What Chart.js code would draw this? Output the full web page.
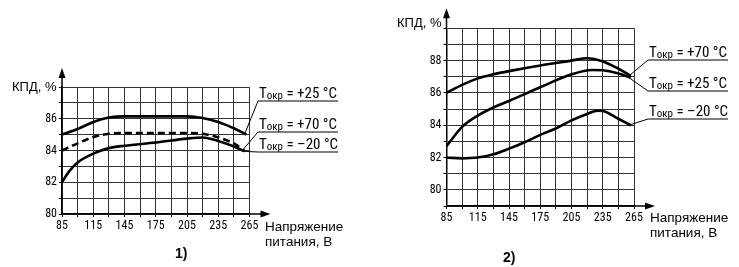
<!DOCTYPE html>
<html>
<head>
<meta charset="utf-8">
<script src="https://cdn.jsdelivr.net/npm/chart.js@4"></script>
<style>
  html, body { margin:0; padding:0; background:#fff; }
  body { width:739px; height:267px; position:relative; overflow:hidden; color:#000; }
  canvas { position:absolute; top:0; }
  .t { position:absolute; white-space:nowrap; font-family:"Liberation Sans",Arial,sans-serif;
       font-size:13.5px; line-height:14px; }
  .k { font-size:13px; }
  .b { font-weight:bold; font-size:14px; }
</style>
</head>
<body>
<canvas id="c1" width="370" height="267" style="left:0"></canvas>
<canvas id="c2" width="369" height="267" style="left:370px"></canvas>
<div class="t k" style="left:12px;top:80px">КПД, %</div>
<div class="t" style="left:265px;top:220px">Напряжение</div>
<div class="t" style="left:265px;top:235px">питания, В</div>
<div class="t b" style="left:175px;top:246px">1)</div>
<div class="t k" style="left:397px;top:16px">КПД, %</div>
<div class="t" style="left:650px;top:211px">Напряжение</div>
<div class="t" style="left:650px;top:226px">питания, В</div>
<div class="t b" style="left:503px;top:250px">2)</div>
<script>
// ---------- DATA ----------
// Chart 1)
const c1_volt_p25 = [85, 100, 115, 130, 145, 175, 205, 220, 235, 250, 262];
const c1_eff_p25  = [85.0, 85.35, 85.8, 86.08, 86.15, 86.15, 86.15, 86.05, 85.8, 85.4, 85.0];
const c1_volt_p70 = [85, 100, 115, 130, 145, 175, 205, 220, 235, 250, 260];
const c1_eff_p70  = [84.0, 84.45, 84.85, 85.05, 85.1, 85.1, 85.1, 85.05, 84.82, 84.44, 84.0];
const c1_volt_m20 = [85, 92, 100, 115, 130, 145, 175, 205, 220, 235, 250, 260];
const c1_eff_m20  = [82.0, 82.7, 83.25, 83.8, 84.15, 84.3, 84.5, 84.75, 84.82, 84.6, 84.25, 83.95];
// Chart 2)
const c2_volt_p70 = [85, 100, 115, 130, 145, 175, 205, 220, 235, 250, 262];
const c2_eff_p70  = [86.0, 86.5, 86.9, 87.15, 87.35, 87.7, 88.0, 88.15, 87.95, 87.5, 87.05];
const c2_volt_p25 = [85, 100, 115, 130, 145, 175, 205, 225, 235, 250, 262];
const c2_eff_p25  = [82.7, 83.9, 84.6, 85.1, 85.5, 86.35, 87.15, 87.42, 87.4, 87.2, 86.95];
const c2_volt_m20 = [85, 100, 115, 130, 145, 160, 175, 190, 205, 220, 230, 235, 250, 262];
const c2_eff_m20  = [82.0, 81.95, 82.0, 82.2, 82.55, 82.95, 83.4, 83.8, 84.3, 84.7, 84.9, 84.88, 84.4, 84.0];
// Labels
const xTickLabels = [85, 115, 145, 175, 205, 235, 265];
const c1_yTickLabels = [80, 82, 84, 86];
const c2_yTickLabels = [80, 82, 84, 86, 88];
const c1_series = ['+25 °C', '+70 °C', '\u201320 °C'];
const c2_series = ['+70 °C', '+25 °C', '\u201320 °C'];
const symbolMain = 'T', symbolSub = 'окр';

const FONT = '"Liberation Sans Narrow","Arial Narrow","Roboto Condensed","Liberation Sans",sans-serif';

function pts(xs, ys){ return xs.map((x,i)=>({x:x, y:ys[i]})); }

// plugin: axis arrows + series labels with leader lines
const decor = {
  id:'decor',
  afterDatasetsDraw(chart, args, o){
    const ctx = chart.ctx, a = chart.chartArea;
    const xs = chart.scales.x, ys = chart.scales.y;
    ctx.save();
    ctx.strokeStyle = '#000'; ctx.fillStyle = '#000'; ctx.lineWidth = 1.5;
    const yb = a.bottom;
    ctx.beginPath(); ctx.moveTo(a.right, yb); ctx.lineTo(a.right + o.xArrow - 8, yb); ctx.stroke();
    ctx.beginPath(); ctx.moveTo(a.right + o.xArrow, yb); ctx.lineTo(a.right + o.xArrow - 10, yb - 3.5);
    ctx.lineTo(a.right + o.xArrow - 10, yb + 3.5); ctx.closePath(); ctx.fill();
    const xl = a.left;
    ctx.beginPath(); ctx.moveTo(xl, a.top); ctx.lineTo(xl, a.top - o.yArrow + 8); ctx.stroke();
    ctx.beginPath(); ctx.moveTo(xl, a.top - o.yArrow); ctx.lineTo(xl - 3.5, a.top - o.yArrow + 10);
    ctx.lineTo(xl + 3.5, a.top - o.yArrow + 10); ctx.closePath(); ctx.fill();
    ctx.lineWidth = 1;
    o.labels.forEach((lb, i) => {
      const ds = chart.data.datasets[lb.ds];
      const p = ds.data[ds.data.length - 1];
      const px = xs.getPixelForValue(p.x) - 2, py = ys.getPixelForValue(p.y);
      const x0 = a.right + o.lx0, x1 = a.right + o.lx1, uy = lb.uy;
      ctx.beginPath(); ctx.moveTo(px, py); ctx.lineTo(x0, uy); ctx.lineTo(x1, uy); ctx.stroke();
      let tx = x0 + 1; const by = uy - 3;
      ctx.textBaseline = 'alphabetic'; ctx.textAlign = 'left';
      ctx.font = '15px ' + FONT; ctx.fillText(symbolMain, tx, by); tx += ctx.measureText(symbolMain).width;
      ctx.font = '11px ' + FONT; ctx.fillText(symbolSub, tx, by + 1); tx += ctx.measureText(symbolSub).width;
      ctx.font = '15px ' + FONT; ctx.fillText(' = ' + lb.text, tx, by);
    });
    ctx.restore();
  }
};

function makeChart(id, cfg){
  const lineStyle = { borderColor:'#000', borderWidth:2.6, pointRadius:0, fill:false,
                      cubicInterpolationMode:'monotone' };
  return new Chart(document.getElementById(id), {
    type:'line',
    data:{ datasets: cfg.datasets.map(d => Object.assign({}, lineStyle, d)) },
    options:{
      responsive:false, animation:false, devicePixelRatio:1,
      layout:{ padding:{ left:0, top:cfg.top, right:cfg.right, bottom:cfg.bottom } },
      plugins:{ legend:{display:false}, tooltip:{enabled:false}, decor:cfg.decor },
      scales:{
        x:{ type:'linear', min:85, max:265,
            afterFit(s){ s.height = 20; },
            grid:{ color:'#333', lineWidth:1, tickLength:3, tickColor:'#000' },
            border:{ color:'#000', width:1.5 },
            ticks:{ stepSize:15, autoSkip:false, maxRotation:0, padding:2, color:'#000',
                    font:{ family:FONT, size:12 },
                    callback:v => xTickLabels.includes(v) ? String(v) : '' } },
        y:{ type:'linear', min:cfg.ymin, max:cfg.ymax,
            afterFit(s){ s.width = cfg.yw; },
            grid:{ color:'#333', lineWidth:1, tickLength:3, tickColor:'#000' },
            border:{ color:'#000', width:1.5 },
            ticks:{ stepSize:1, autoSkip:false, padding:2, color:'#000',
                    font:{ family:FONT, size:12 },
                    callback:v => cfg.yLabels.includes(v) ? String(v) : '' } }
      }
    },
    plugins:[decor]
  });
}

makeChart('c1', {
  ymin:80, ymax:88, yw:62, top:87, right:120.5, bottom:33, yLabels:c1_yTickLabels,
  datasets:[
    { data:pts(c1_volt_p25, c1_eff_p25) },
    { data:pts(c1_volt_p70, c1_eff_p70), borderDash:[7,4] },
    { data:pts(c1_volt_m20, c1_eff_m20) }
  ],
  decor:{ xArrow:21, yArrow:19, lx0:8.5, lx1:88.5,
          labels:[ {ds:0, text:c1_series[0], uy:101},
                   {ds:1, text:c1_series[1], uy:132},
                   {ds:2, text:c1_series[2], uy:152} ] }
});

makeChart('c2', {
  ymin:79, ymax:90, yw:76.5, top:28.3, right:105, bottom:41, yLabels:c2_yTickLabels,
  datasets:[
    { data:pts(c2_volt_p70, c2_eff_p70) },
    { data:pts(c2_volt_p25, c2_eff_p25) },
    { data:pts(c2_volt_m20, c2_eff_m20) }
  ],
  decor:{ xArrow:21, yArrow:20, lx0:14, lx1:94,
          labels:[ {ds:0, text:c2_series[0], uy:60},
                   {ds:1, text:c2_series[1], uy:91},
                   {ds:2, text:c2_series[2], uy:119} ] }
});
</script>
</body>
</html>
